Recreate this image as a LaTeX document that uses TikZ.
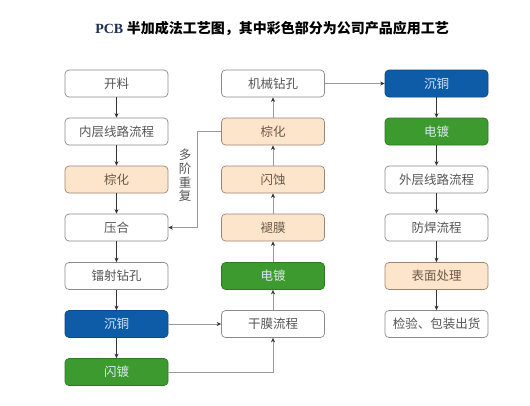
\documentclass[tikz,border=0pt]{standalone}
\usepackage{fontspec}
\setmainfont{Liberation Serif}
\newfontfamily\cjk{Noto Sans CJK SC}
\usetikzlibrary{arrows.meta}
\definecolor{bfill}{HTML}{0E5CA8}
\definecolor{bdraw}{HTML}{0A4A8A}
\definecolor{gfill}{HTML}{3C9A2E}
\definecolor{gdraw}{HTML}{2E7A22}
\definecolor{ofill}{HTML}{FDE5CB}
\definecolor{odraw}{HTML}{9C8570}
\definecolor{wdraw}{HTML}{8A8A8A}
\definecolor{wtext}{HTML}{555555}
\definecolor{otext}{HTML}{6A5A4A}
\definecolor{ltext}{HTML}{DCE6F0}
\definecolor{darkline}{HTML}{333333}
\definecolor{grayline}{HTML}{9A9A9A}
\definecolor{navy}{HTML}{1C2E50}
\tikzset{
  box/.style={rounded corners=4pt, minimum width=103pt, minimum height=27pt,
    inner sep=0pt, line width=0.7pt, font=\cjk\fontsize{12.5}{14}\selectfont},
  wbox/.style={box, draw=wdraw, fill=white, text=wtext},
  obox/.style={box, draw=odraw, fill=ofill, text=otext},
  bbox/.style={box, draw=bdraw, fill=bfill, text=ltext},
  gbox/.style={box, draw=gdraw, fill=gfill, text=ltext},
  darr/.style={draw=darkline, line width=0.6pt, -{Stealth[length=4.5pt,width=4pt]}},
  garr/.style={draw=grayline, line width=0.8pt, -{Stealth[length=4.5pt,width=4pt,color=darkline]}},
}
\begin{document}
\begin{tikzpicture}[x=1pt,y=-1pt]
\useasboundingbox (0,0) rectangle (530,405);
\node (title) at (272,28) {\fontsize{14}{17}\selectfont\textbf{\textcolor{navy}{PCB}} {\cjk\bfseries 半加成法工艺图，其中彩色部分为公司产品应用工艺}};
% left column
\node[wbox] (a1) at (116.5,83.5) {开料};
\node[wbox] (a2) at (116.5,131.5) {内层线路流程};
\node[obox] (a3) at (116.5,179.5) {棕化};
\node[wbox] (a4) at (116.5,227.5) {压合};
\node[wbox] (a5) at (116.5,276) {镭射钻孔};
\node[bbox] (a6) at (116.5,324) {沉铜};
\node[gbox] (a7) at (116.5,372) {闪镀};
% middle column
\node[wbox] (b1) at (273,83.5) {机械钻孔};
\node[obox] (b2) at (273,131.5) {棕化};
\node[obox] (b3) at (273,179.5) {闪蚀};
\node[obox] (b4) at (273,227.5) {褪膜};
\node[gbox] (b5) at (273,276) {电镀};
\node[wbox] (b6) at (273,324) {干膜流程};
% right column
\node[bbox] (c1) at (436.5,83.5) {沉铜};
\node[gbox] (c2) at (436.5,131.5) {电镀};
\node[wbox] (c3) at (436.5,179.5) {外层线路流程};
\node[wbox] (c4) at (436.5,227.5) {防焊流程};
\node[obox] (c5) at (436.5,276) {表面处理};
\node[wbox] (c6) at (436.5,324) {检验、包装出货};
% left arrows
\draw[darr] (a1) -- (a2);
\draw[darr] (a2) -- (a3);
\draw[darr] (a3) -- (a4);
\draw[darr] (a4) -- (a5);
\draw[darr] (a5) -- (a6);
\draw[darr] (a6) -- (a7);
% middle arrows
\draw[garr] (a6) -- (b6);
\coordinate (k1) at (273,372);
\draw[garr] (a7.east) -- (k1) -- (b6.south);
\draw[garr] (b6) -- (b5);
\draw[garr] (b5) -- (b4);
\draw[garr] (b4) -- (b3);
\draw[garr] (b3) -- (b2);
\draw[garr] (b2) -- (b1);
\coordinate (k2) at (197,131.5);
\coordinate (k3) at (197,227.5);
\draw[garr] (b2.west) -- (k2) -- (k3) -- (a4.east);
\node[text=wtext, font=\cjk\fontsize{12.5}{13.7}\selectfont, align=center, inner sep=0pt] (rep) at (185,175.5) {多\\阶\\重\\复};
\draw[garr] (b1) -- (c1);
% right arrows
\draw[darr] (c1) -- (c2);
\draw[darr] (c2) -- (c3);
\draw[darr] (c3) -- (c4);
\draw[darr] (c4) -- (c5);
\draw[darr] (c5) -- (c6);
\end{tikzpicture}
\end{document}
